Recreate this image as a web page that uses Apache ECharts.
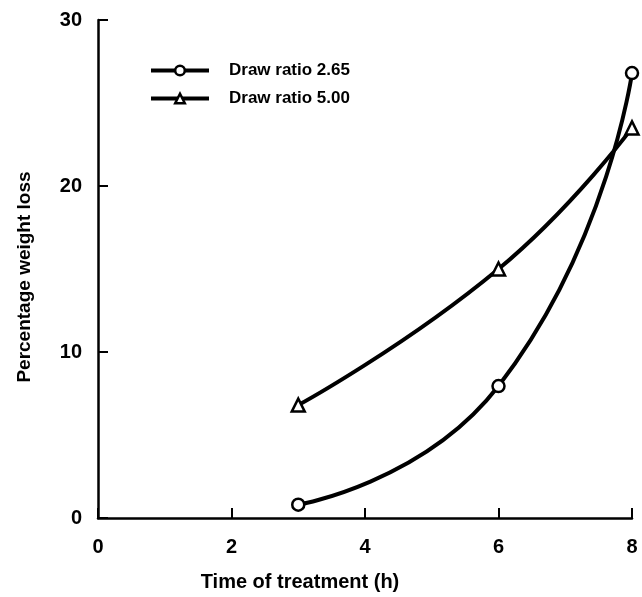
<!DOCTYPE html>
<html>
<head>
<meta charset="utf-8">
<script src="https://cdn.jsdelivr.net/npm/echarts@6/dist/echarts.min.js"></script>
<style>html,body{margin:0;padding:0;background:#fff;}#c{width:642px;height:597px;}</style>
</head>
<body>
<div id="c"></div>
<script>
const xTicks = [0, 2, 4, 6, 8];
const yTicks = [0, 10, 20, 30];
const timeH = [3, 6, 8];
const series265Name = 'Draw ratio 2.65';
const series500Name = 'Draw ratio 5.00';
const loss265 = [0.8, 7.95, 26.8];
const loss500 = [6.8, 15.0, 23.5];
const xTitle = 'Time of treatment (h)';
const yTitle = 'Percentage weight loss';

const font = 'Liberation Sans, Arial, sans-serif';
const chart = echarts.init(document.getElementById('c'));
function pairs(xs, ys){ return xs.map((x,i)=>[x, ys[i]]); }
chart.setOption({
  animation: false,
  backgroundColor: '#fff',
  grid: {left: 98, right: 10, top: 20, bottom: 77, containLabel: false},
  legend: {
    orient: 'vertical', left: 144, top: 57, itemWidth: 58, itemHeight: 12, itemGap: 11,
    lineStyle: {color: '#000', width: 4},
    itemStyle: {color: '#fff', borderColor: '#000', borderWidth: 2.5},
    textStyle: {fontFamily: font, fontWeight: 'bold', fontSize: 17, color: '#000', padding: [0,0,0,15]},
    data: [series265Name, series500Name]
  },
  xAxis: {
    type: 'value', min: xTicks[0], max: xTicks[xTicks.length-1], interval: 2,
    name: xTitle, nameLocation: 'middle', nameGap: 54,
    nameTextStyle: {fontFamily: font, fontWeight: 'bold', fontSize: 20, color: '#000', padding: [0, 130, 0, 0]},
    axisLine: {lineStyle: {color: '#000', width: 2.5}},
    axisTick: {inside: true, length: 10, lineStyle: {color: '#000', width: 2}},
    axisLabel: {fontFamily: font, fontWeight: 'bold', fontSize: 20, color: '#000', margin: 19},
    splitLine: {show: false}
  },
  yAxis: {
    type: 'value', min: yTicks[0], max: yTicks[yTicks.length-1], interval: 10,
    name: yTitle, nameLocation: 'middle', nameGap: 64, nameRotate: 90,
    nameTextStyle: {fontFamily: font, fontWeight: 'bold', fontSize: 19, color: '#000', padding: [0, 16, 0, 0]},
    axisLine: {lineStyle: {color: '#000', width: 2.5}},
    axisTick: {inside: true, length: 10, lineStyle: {color: '#000', width: 2}},
    axisLabel: {fontFamily: font, fontWeight: 'bold', fontSize: 20, color: '#000', margin: 16},
    splitLine: {show: false}
  },
  series: [
    {
      name: series265Name, type: 'line', data: pairs(timeH, loss265), smooth: 0.55,
      symbol: 'circle', symbolSize: 12, showAllSymbol: true,
      lineStyle: {color: '#000', width: 4},
      itemStyle: {color: '#fff', borderColor: '#000', borderWidth: 2.5}
    },
    {
      name: series500Name, type: 'line', data: pairs(timeH, loss500), smooth: 0.5,
      symbol: 'triangle', symbolSize: 13, showAllSymbol: true,
      lineStyle: {color: '#000', width: 4},
      itemStyle: {color: '#fff', borderColor: '#000', borderWidth: 2.5}
    }
  ]
});
</script>
</body>
</html>
